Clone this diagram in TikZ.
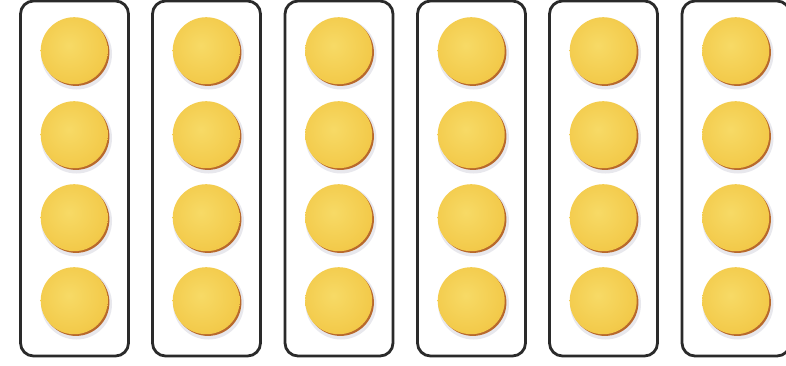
\documentclass[tikz,border=0pt]{standalone}
\usetikzlibrary{shadows}
\definecolor{boxline}{HTML}{2A2A2A}
\definecolor{ballin}{HTML}{F7DA66}
\definecolor{ballmid}{HTML}{F3CB4C}
\definecolor{ballout}{HTML}{EDB836}
\definecolor{ballrim}{HTML}{B8692C}
\definecolor{ballshadow}{HTML}{9A98B0}
\pgfdeclareradialshading{ballshade}{\pgfpoint{-4bp}{4bp}}{%
  color(0bp)=(ballin); color(25bp)=(ballmid); color(46bp)=(ballout); color(100bp)=(ballout)}
\tikzset{
  tray/.style={draw=boxline, line width=2.8pt, fill=white, rounded corners=13pt,
    minimum width=108pt, minimum height=355pt, inner sep=0pt},
  ball/.style={circle, minimum size=67pt, inner sep=0pt, shading=ballshade},
  ballrimst/.style={circle, minimum size=67pt, inner sep=0pt, fill=ballrim},
  ballshad/.style={circle, minimum size=71pt, inner sep=0pt, fill=ballshadow, opacity=0.22}
}
\begin{document}
\begin{tikzpicture}[x=1pt,y=-1pt]
\useasboundingbox[fill=white] (0,0) rectangle (786,365);
\foreach \i/\cx in {1/74.5,2/206.5,3/339,4/471.5,5/603.5,6/736}{
  \node[tray] (t\i) at (\cx,178.5) {};
  \foreach \j/\cy in {1/51,2/135,3/218,4/301}{
    \node[ballshad] (s\i\j) at (\cx+2,\cy+3) {};
    \node[ballrimst] (r\i\j) at (\cx+1.4,\cy+1.4) {};
    \node[ball] (b\i\j) at (\cx-0.3,\cy-0.3) {};
  }
}
\end{tikzpicture}
\end{document}
